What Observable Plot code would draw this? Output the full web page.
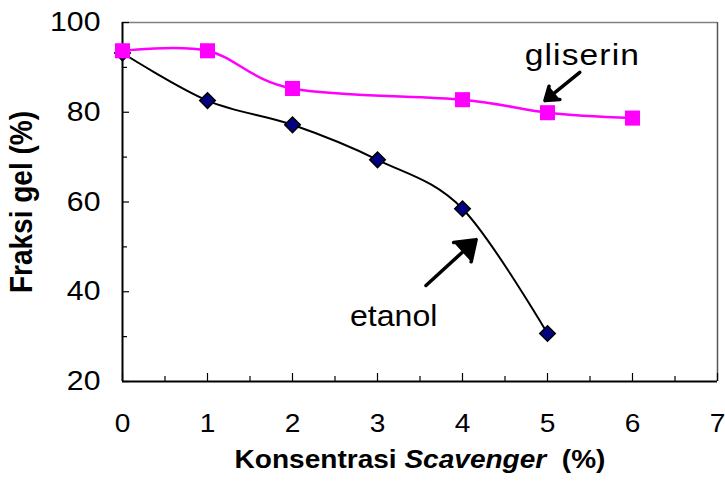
<!DOCTYPE html>
<html><head><meta charset="utf-8">
<script src="https://cdn.jsdelivr.net/npm/d3@7"></script>
<script src="https://cdn.jsdelivr.net/npm/@observablehq/plot@0.6"></script>
<style>body{margin:0;background:#fff;}</style>
</head><body><div id="chart"></div>
<script>
// ---- data ----
const xMajorTicks = [0, 1, 2, 3, 4, 5, 6, 7];
const xMinorTicks = [0.5, 1.5, 2.5, 3.5, 4.5, 5.5, 6.5];
const yMajorTicks = [20, 40, 60, 80, 100];
const yMinorTicks = [30, 50, 70, 90];

const etanolX = [0, 1, 2, 3, 4, 5];
const etanolY = [93.2, 82.6, 77.2, 69.4, 58.5, 30.7];
const gliserinX = [0, 1, 2, 4, 5, 6];
const gliserinY = [93.7, 93.7, 85.3, 82.8, 79.9, 78.7];

const labelText = ["gliserin", "etanol"];
const labelX = [5.41, 3.19];
const labelY = [92.6, 34.6];
const arrowFromX = [5.38, 3.57];
const arrowFromY = [88.9, 41.4];
const arrowToX = [4.97, 4.16];
const arrowToY = [82.6, 51.6];

const xTitle = ["Konsentrasi ", "Scavenger", "  (%)"];
const yTitle = "Fraksi gel (%)";

// ---- tables ----
const etanol = etanolX.map((x, i) => ({x, y: etanolY[i]}));
const gliserin = gliserinX.map((x, i) => ({x, y: gliserinY[i]}));
const labels = labelText.map((t, i) => ({t, x: labelX[i], y: labelY[i]}));
const arrows = arrowFromX.map((x1, i) => ({x1, y1: arrowFromY[i], x2: arrowToX[i], y2: arrowToY[i]}));

const chart = Plot.plot({
  width: 725, height: 487,
  marginLeft: 122, marginRight: 8, marginTop: 22, marginBottom: 106,
  x: {domain: [0, 7]},
  y: {domain: [20, 100]},
  style: {fontFamily: "'Liberation Sans', Arial, sans-serif", fontSize: "26px", color: "black", background: "white"},
  marks: [
    Plot.ruleY([100], {stroke: "#808080", strokeWidth: 1.5}),
    Plot.ruleX([7], {stroke: "#555", strokeWidth: 1.5}),
    Plot.ruleY([20], {stroke: "black", strokeWidth: 2}),
    Plot.ruleX([0], {stroke: "black", strokeWidth: 2}),
    Plot.axisX(xMajorTicks, {tickSize: -8, tickPadding: 40, fontSize: 26.5, label: null, strokeWidth: 1.2}),
    Plot.axisX(xMinorTicks, {tickSize: -5, tickFormat: () => "", label: null, strokeWidth: 1.2}),
    Plot.axisY(yMajorTicks, {tickSize: -7, tickPadding: 29, fontSize: 27, label: null, strokeWidth: 1.2}),
    Plot.axisY(yMinorTicks, {tickSize: -5, tickFormat: () => "", label: null, strokeWidth: 1.2}),
    Plot.line(etanol, {x: "x", y: "y", curve: "cardinal", tension: 0, stroke: "black", strokeWidth: 2}),
    Plot.dot(etanol, {x: "x", y: "y", symbol: "square", rotate: 45, r: 6.2, fill: "#000080", stroke: "black", strokeWidth: 1.5}),
    Plot.line(gliserin, {x: "x", y: "y", curve: "cardinal", tension: 0, stroke: "#FF00FF", strokeWidth: 2.5}),
    Plot.dot(gliserin, {x: "x", y: "y", symbol: "square", r: 8.5, fill: "#FF00FF", stroke: "none"}),
    Plot.arrow(arrows, {x1: "x1", y1: "y1", x2: "x2", y2: "y2", stroke: "black", fill: "black", strokeWidth: 3.5, headLength: 11, headAngle: 70}),
    Plot.text(labels, {x: "x", y: "y", text: "t", fontSize: 30, textAnchor: "middle", lineAnchor: "middle"}),
    Plot.text([xTitle.join("")], {frameAnchor: "bottom", dy: 78, fontSize: 25.5, fontWeight: "bold", textAnchor: "middle", lineAnchor: "middle"}),
    Plot.text([yTitle], {frameAnchor: "left", dx: -100, rotate: -90, fontSize: 28, fontWeight: "bold", textAnchor: "middle", lineAnchor: "middle"})
  ]
});
document.getElementById("chart").appendChild(chart);

// the reference glyphs are slightly wider than Arial: stretch text horizontally around its anchor
function stretch(el, sx, sy = 1) {
  const tr = el.getAttribute("transform");
  if (tr) el.setAttribute("transform", `${tr} scale(${sx},${sy})`);
  else {
    const x = +el.getAttribute("x") || 0, y = +el.getAttribute("y") || 0;
    el.setAttribute("transform", `translate(${x},${y}) scale(${sx},${sy}) translate(${-x},${-y})`);
  }
}
d3.select(chart).selectAll("g[aria-label='x-axis tick label'] text").each(function() { stretch(this, 1.06); });
d3.select(chart).selectAll("g[aria-label='y-axis tick label'] text").each(function() { stretch(this, 1.12); });
d3.select(chart).selectAll("text").each(function() {
  const el = d3.select(this);
  const t = this.textContent;
  if (t === xTitle.join("")) {
    el.text(null).attr("xml:space", "preserve");
    xTitle.forEach((part, i) => {
      el.append("tspan").text(part).style("font-style", i === 1 ? "italic" : "normal");
    });
    stretch(this, 1.1);
  } else if (t === yTitle) {
    stretch(this, 1, 1.1);
  } else if (t === "gliserin") {
    el.style("letter-spacing", "1px");
    stretch(this, 1.12);
  } else if (t === "etanol") {
    stretch(this, 1.07);
  }
});
</script>
</body></html>
